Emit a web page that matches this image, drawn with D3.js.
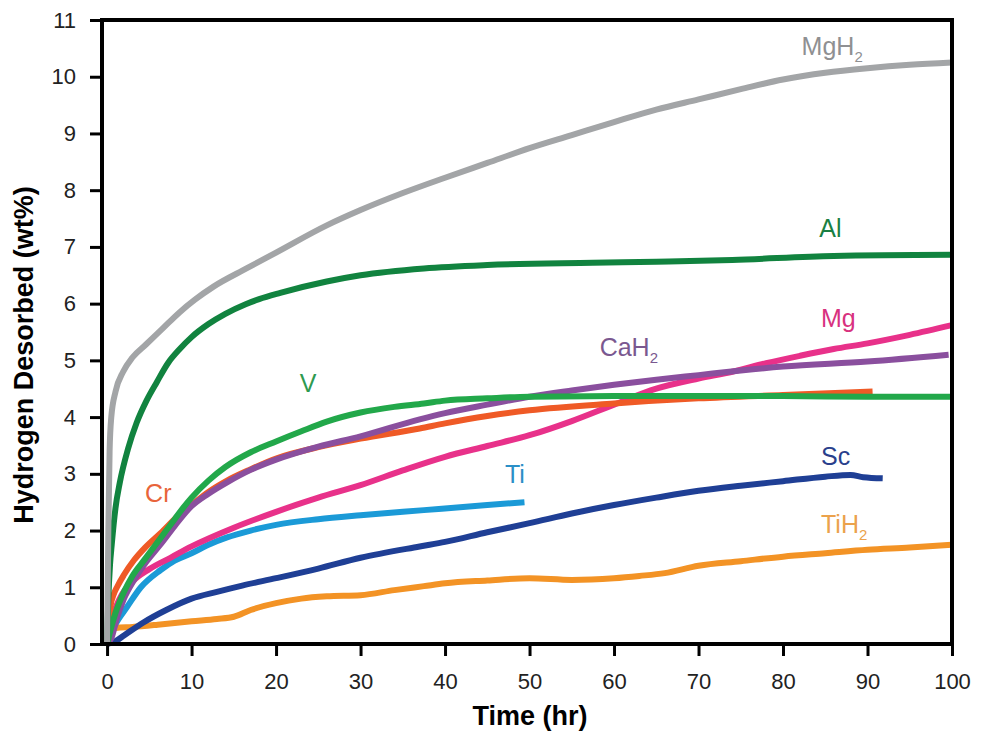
<!DOCTYPE html>
<html lang="en">
<head>
<meta charset="UTF-8">
<title>Hydrogen Desorbed</title>
<script src="https://cdnjs.cloudflare.com/ajax/libs/d3/7.8.5/d3.min.js"></script>
<style>
  body { margin: 0; background: #fff; }
  text { font-family: Arial, "Liberation Sans", Helvetica, sans-serif; }
</style>
</head>
<body>
<div id="chart"></div>
<script>
// time (hr), wt%
const mgh2 = [[0,0],[0.15,2.0],[0.3,3.4],[0.5,4.0],[1,4.45],[1.9,4.8],[3,5.05],[4.6,5.28],[6.5,5.55],[8.6,5.85],[10.4,6.07],[12.6,6.3],[16.5,6.62],[20,6.9],[26,7.38],[30,7.65],[35,7.95],[40,8.22],[45,8.48],[50,8.74],[55,8.97],[60,9.2],[65,9.42],[70,9.6],[75,9.78],[80,9.95],[85,10.07],[90,10.15],[95,10.21],[100,10.25]];
const al = [[0,0],[0.15,0.8],[0.35,1.4],[0.55,1.75],[1,2.4],[1.5,2.84],[2.5,3.45],[3.5,3.9],[4.7,4.3],[5.9,4.62],[7.2,4.95],[8.6,5.2],[10,5.41],[12,5.64],[14,5.82],[16.4,5.99],[18,6.08],[20.5,6.19],[26,6.39],[30,6.5],[37.5,6.62],[45,6.68],[57.5,6.72],[65,6.74],[74,6.77],[86,6.84],[100,6.86]];
const v = [[0,0],[0.5,0.3],[1,0.55],[2,0.92],[3,1.2],[4.5,1.5],[6,1.8],[8,2.2],[9,2.4],[10,2.58],[12,2.88],[14,3.12],[17,3.38],[20,3.57],[23,3.75],[26,3.92],[30,4.08],[34,4.18],[37.5,4.24],[40,4.29],[45,4.33],[50,4.36],[60,4.37],[70,4.37],[80,4.37],[90,4.36],[100,4.36]];
const cr = [[0,0],[0.2,0.35],[0.4,0.66],[0.8,0.88],[1.2,1.01],[2,1.22],[3.2,1.48],[4.5,1.7],[6.3,1.95],[8.7,2.3],[10,2.45],[12,2.68],[14.2,2.88],[17,3.08],[20,3.27],[25,3.47],[30,3.62],[37,3.8],[40,3.89],[45,4.02],[50,4.12],[60,4.24],[70,4.33],[80,4.39],[90.6,4.45]];
const cah2 = [[0,0],[0.5,0.1],[1.2,0.47],[2,0.8],[3.2,1.13],[4.5,1.42],[6.3,1.75],[8,2.08],[10,2.43],[12,2.65],[14.2,2.85],[17,3.07],[20,3.25],[25,3.48],[30,3.66],[37,3.96],[40,4.07],[45,4.22],[50,4.36],[55,4.47],[60,4.57],[65,4.66],[70,4.74],[75,4.82],[80,4.89],[90,4.98],[99.6,5.1]];
const mg = [[0,0],[0.5,0.4],[1.5,0.8],[3,1.1],[5,1.32],[7.5,1.52],[10,1.72],[15,2.05],[20,2.33],[25,2.58],[30,2.8],[35,3.06],[40,3.3],[45,3.49],[50,3.68],[55,3.93],[60,4.22],[65,4.5],[70,4.68],[74,4.8],[78,4.95],[82,5.08],[86,5.2],[90,5.3],[95,5.45],[100,5.62]];
const ti = [[0,0],[0.5,0.2],[1,0.35],[2.4,0.66],[4,1.0],[6.3,1.3],[8,1.47],[10,1.6],[12,1.75],[14.2,1.88],[17,2.0],[20,2.1],[25,2.2],[30,2.27],[37.5,2.36],[45,2.45],[49.4,2.5]];
const sc = [[0,0],[1,0.05],[2,0.15],[4.3,0.38],[7,0.6],[10,0.8],[13,0.92],[16,1.03],[20,1.16],[25,1.33],[30,1.52],[37,1.72],[40,1.8],[45,1.97],[50,2.13],[55,2.3],[60,2.45],[65,2.58],[70,2.7],[75,2.79],[80,2.87],[85,2.95],[88,2.98],[89.5,2.94],[91.8,2.92]];
const tih2 = [[0,0],[0.5,0.2],[1,0.28],[3,0.3],[6,0.34],[10,0.4],[13,0.44],[15,0.48],[17,0.6],[20,0.72],[23,0.8],[26,0.84],[30,0.86],[34,0.95],[37.5,1.02],[40,1.07],[45,1.12],[50,1.16],[55,1.13],[60,1.16],[63,1.2],[66,1.25],[70,1.38],[75,1.46],[80,1.54],[85,1.6],[90,1.66],[95,1.7],[100,1.75]];

const xTicks = [0, 10, 20, 30, 40, 50, 60, 70, 80, 90, 100];
const yTicks = [0, 1, 2, 3, 4, 5, 6, 7, 8, 9, 10, 11];

// drawing order (back to front)
const series = [
  {name: "TiH", sub: "2", data: tih2, color: "#f39325", label: "#eba24c", at: [84.5, 1.96]},
  {name: "Sc", sub: "", data: sc, color: "#1f3f95", label: "#2a3f8c", at: [84.5, 3.16]},
  {name: "Ti", sub: "", data: ti, color: "#1b9ad7", label: "#2b8fc7", at: [47.1, 2.84]},
  {name: "Mg", sub: "", data: mg, color: "#e8318a", label: "#d8327f", at: [84.5, 5.59]},
  {name: "Cr", sub: "", data: cr, color: "#ef5a26", label: "#e8643a", at: [4.5, 2.5]},
  {name: "CaH", sub: "2", data: cah2, color: "#8a4f9e", label: "#7a5890", at: [58.3, 5.08]},
  {name: "V", sub: "", data: v, color: "#22a84a", label: "#2e9a50", at: [22.8, 4.44]},
  {name: "Al", sub: "", data: al, color: "#11833f", label: "#1a7f43", at: [84.3, 7.18]},
  {name: "MgH", sub: "2", data: mgh2, color: "#a3a5a7", label: "#8f9092", at: [82.2, 10.39]}
];

const width = 982, height = 735;
const svg = d3.select("#chart").append("svg")
  .attr("width", width).attr("height", height);

const x = d3.scaleLinear().domain([-0.6, 100]).range([102, 952]);
const y = d3.scaleLinear().domain([0, 11]).range([644, 20]);

const line = d3.line()
  .x(d => x(d[0]))
  .y(d => y(d[1]))
  .curve(d3.curveMonotoneX);

svg.selectAll("path.series")
  .data(series)
  .enter()
  .append("path")
  .attr("class", "series")
  .attr("d", d => line(d.data))
  .style("fill", "none")
  .style("stroke", d => d.color)
  .style("stroke-width", 6)
  .style("stroke-linecap", "butt")
  .style("stroke-linejoin", "round");

// series labels
const labels = svg.selectAll("text.lab")
  .data(series)
  .enter()
  .append("text")
  .attr("class", "lab")
  .attr("x", d => x(d.at[0]))
  .attr("y", d => y(d.at[1]))
  .style("font-size", "25px")
  .style("fill", d => d.label)
  .text(d => d.name);
labels.filter(d => d.sub)
  .append("tspan")
  .attr("dy", 7)
  .style("font-size", "15px")
  .text(d => d.sub);

// frame
svg.append("rect")
  .attr("x", x(-0.6)).attr("y", y(11))
  .attr("width", x(100) - x(-0.6)).attr("height", y(0) - y(11))
  .style("fill", "none").style("stroke", "#000").style("stroke-width", 4);

// y axis
const yAxis = d3.axisLeft(y).tickValues(yTicks).tickSize(12).tickPadding(14).tickFormat(d3.format("d"));
const gy = svg.append("g").attr("transform", `translate(${x(-0.6)},0)`).call(yAxis);
gy.select(".domain").remove();
gy.selectAll("line").style("stroke", "#000").style("stroke-width", 3);
gy.selectAll("text").style("font-size", "22px").style("fill", "#222");

// x axis
const xAxis = d3.axisBottom(x).tickValues(xTicks).tickSize(12).tickPadding(17).tickFormat(d3.format("d"));
const gx = svg.append("g").attr("transform", `translate(0,${y(0)})`).call(xAxis);
gx.select(".domain").remove();
gx.selectAll("line").style("stroke", "#000").style("stroke-width", 3);
gx.selectAll("text").style("font-size", "22px").style("fill", "#222");

// axis titles
svg.append("text")
  .attr("x", 530).attr("y", 725)
  .attr("text-anchor", "middle")
  .style("font-size", "27px").style("font-weight", "bold")
  .text("Time (hr)");

svg.append("text")
  .attr("transform", "translate(33,355) rotate(-90)")
  .attr("text-anchor", "middle")
  .style("font-size", "27px").style("font-weight", "bold")
  .text("Hydrogen Desorbed (wt%)");
</script>
</body>
</html>
